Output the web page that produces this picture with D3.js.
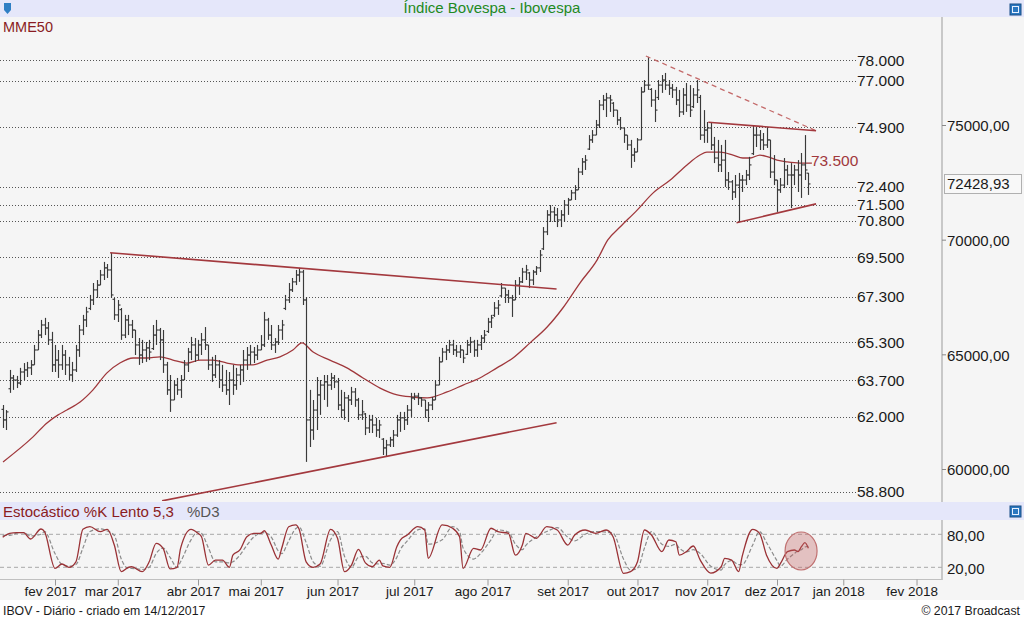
<!DOCTYPE html>
<html><head><meta charset="utf-8">
<script src="https://cdn.jsdelivr.net/npm/d3@7"></script>
<style>
html,body{margin:0;padding:0;background:#fff;}
svg{display:block;font-family:"Liberation Sans",Arial,sans-serif;}
</style></head><body>
<svg id="c" width="1024" height="621"></svg>
<script>
// ---------------- DATA ----------------
const firstIdx = -15; // trading-day index of first bar (0 = 1 Feb 2017)
const highs = [
62790,62570,64320,64100,64060,64410,64620,64670,64750,65410,66060,66500,66590,66410,65980,
65410,65190,65410,65190,64890,64670,65410,66280,66720,67070,
67590,68110,68240,68680,69030,68940,69420,67460,67370,67020,
66720,66720,66500,66060,65710,65630,65540,65630,66280,66500,
66150,66060,64670,64100,63880,63970,64100,64750,65280,65760,
65710,65630,65930,66190,65410,64890,64970,64750,64540,64320,
64230,64540,64410,64540,65190,65320,65410,65320,65410,65840,
66850,66590,66280,65710,66280,66500,67590,68110,68330,68680,
68770,68680,67500,63450,63010,64010,63880,64100,64100,64190,
64100,63970,63450,63360,63230,63580,63530,63100,63010,62440,
62360,62360,62230,62140,61350,61270,61400,61700,62360,62490,
62490,62790,63320,63320,63320,63140,63010,62920,63140,63880,
64890,65280,65410,65630,65630,65410,65410,65190,65630,65760,
65630,65630,65840,66060,66590,66720,67280,67370,68110,67890,
67810,67590,68240,68370,68770,68900,68590,68680,68850,69550,
70550,71290,71510,71430,71380,71290,71730,71820,72170,72380,
73130,73560,73690,74560,74780,75220,76090,76310,76400,76310,
76000,75650,75350,74870,74560,74350,74000,74430,76660,76960,
77970,76610,76530,76960,77180,77270,76960,76790,76660,76530,
76610,76830,76740,76610,76960,76310,75650,75130,75130,74480,
74350,74130,74350,72950,72600,72820,72910,72820,73040,73610,
75000,74910,74780,74650,74910,74350,73690,72600,72690,73560,
73260,73340,73260,73470,73780,74560,72910];
const lows = [
61790,61700,63320,63450,63530,63660,63880,64010,64100,64540,65190,65710,65840,65410,64230,
64230,63970,64320,64100,63880,63800,64230,64890,65840,66190,
66930,67150,67460,68020,68240,68330,67460,66500,66410,65630,
65710,65840,65710,64970,64540,64620,64670,64750,65190,65410,
64750,64190,63230,62490,63010,63230,63100,63880,64230,64750,
64670,64750,64970,65190,64320,63800,63970,63530,63360,63230,
62790,63230,63450,63660,63800,64320,64540,64620,64750,65190,
65320,65630,65190,65060,65410,65630,66930,67240,67720,68020,
68160,67150,60310,60960,61270,61700,62360,63010,62710,63450,
63530,62570,62230,62140,62050,62790,62710,62140,62140,61480,
61570,61570,61400,61350,60610,60530,60960,60960,61400,61620,
61700,61920,62270,63010,62790,62710,62230,62050,62570,63010,
63660,64670,64750,65060,64970,64890,64840,64620,64970,65060,
64890,64890,65190,65500,65930,66150,66630,66720,67500,67240,
67240,66630,67370,67590,68110,68240,67890,68020,68460,68590,
69550,70200,70770,70770,70550,70550,70770,71080,71730,71730,
72170,72820,73040,73910,74220,74560,74870,75650,75350,75570,
75350,75000,74780,74220,73910,73130,73390,73820,74350,76440,
76530,75790,75130,76090,76400,76530,76310,76180,75870,75350,
75440,75570,75350,75740,75960,74350,74220,74220,73910,73340,
72950,72950,72300,72170,71730,71820,70770,72080,72380,72600,
73690,74040,73910,73910,74000,72690,72380,71210,72040,72250,
72380,71380,72380,72080,71820,72600,71950];
const opens = [
62600,62140,63500,63970,63880,63750,64230,64320,64410,64540,65190,65840,66280,66150,65630,
64540,64750,64540,64970,64540,64100,64320,65190,66060,66500,
67000,67370,67810,68020,68460,68770,68680,67400,66720,66950,
65840,66500,66280,66060,65410,64970,65190,65280,65250,65840,
66060,65630,64540,63450,63010,63660,63450,63880,64540,65100,
65410,64970,65410,65630,65410,64540,64100,64540,63880,63660,
63450,63880,63660,64100,64320,64750,64970,65100,64970,65190,
65410,66500,65840,65410,65540,66060,67000,67370,67810,68160,
68460,68590,67370,62140,61700,62570,63230,63660,63800,63660,
63970,63800,62790,62570,63100,63010,63360,63010,62360,62400,
61790,62140,61920,61700,61300,60920,61050,61270,61480,62140,
62230,62140,62570,63100,63180,63100,63010,62570,62790,63010,
63660,64670,65100,65190,65410,65190,65100,65190,65000,65410,
65540,65190,65410,65710,66000,66410,66700,67020,67550,67890,
67590,67460,67370,68020,68160,68590,68550,68240,68590,68770,
69600,70340,71080,71210,71080,70860,71080,71510,71730,72040,
72170,72950,73390,73950,74350,74560,75000,75870,76090,76180,
75950,75650,75220,74870,74560,74130,73690,73820,74350,76440,
76740,76550,76090,76200,76740,76960,76740,76610,76530,76090,
75570,76310,75870,75800,76310,76200,74560,74780,74870,74130,
73560,73260,73470,72600,72520,72080,72380,72600,72600,72820,
73750,74560,74560,74350,74130,74350,72950,72600,72170,72380,
73040,72820,72820,73040,72820,73260,72900];
const closes = [
62140,62490,63970,63880,63750,64230,64320,64410,64540,65190,65840,66280,66150,65630,64540,
64750,64540,64970,64540,64100,64320,65190,66060,66500,66850,
67370,67810,68020,68460,68770,68680,67590,66720,67150,65840,
66500,66280,66060,65410,64970,65190,65280,65100,65840,66060,
65630,64540,63450,63010,63660,63450,63880,64540,65100,65410,
64970,65410,65630,65410,64540,64100,64540,63880,63660,63450,
63880,63660,64100,64320,64750,64970,65100,64970,65190,65410,
66500,65840,65410,65540,66060,66280,67370,67810,68160,68460,
68590,67370,62140,61700,62570,63230,63660,63800,63660,63970,
63800,62790,62570,63100,63010,63360,63010,62360,62490,61790,
62140,61920,61700,61920,60920,61050,61270,61480,62140,62230,
62140,62570,63100,63180,63100,63010,62570,62790,63010,63660,
64670,65100,65190,65410,65190,65100,65190,64840,65410,65540,
65190,65410,65710,65840,66410,66590,67020,67150,67890,67590,
67460,67370,68020,68160,68590,68680,68240,68590,68770,69330,
70340,71080,71210,71080,70860,71080,71510,71730,72040,72170,
72950,73390,73470,74350,74560,75000,75870,76090,76180,76090,
75650,75220,74870,74560,74130,73690,73820,74350,76440,76740,
76740,76090,75650,76740,76960,76740,76610,76530,76090,75570,
76310,75870,75650,76310,76530,74560,74780,74870,74130,73560,
73260,73470,72600,72520,72080,72380,72600,72600,72820,73260,
74560,74560,74350,74130,74350,72950,72600,72170,72380,73040,
72820,72820,73040,72820,73260,73040,72430];

// MME50 (exponential moving average 50)
const emaIdx = [-14.9,-6.3,-2.3,0.9,3.4,7.2,10.9,14.9,18.6,22.4,26.4,30.1,33.8,37.8,41.6,45.3,49.3,53.0,56.8,60.8,
64.5,68.2,70.8,74.0,78.8,83.7,88.3,93.2,98.1,102.6,106.7,112.4,117.0,121.8,126.7,131.3,136.2,141.1,145.6,150.5,
155.4,158.5,162.0,166.9,171.5,176.4,181.2,184.9,186.9,190.7,194.4,197.2,199.3,202.1,204.4,207.0,209.9,213.6,217.0];
const emaVals = [60310,61400,62010,62360,62570,62920,63450,64190,64620,64840,64840,64890,64750,64620,64750,64750,64620,64540,64540,64750,
64890,65190,65500,65100,64750,64410,63970,63530,63230,63140,63100,63360,63660,63970,64410,64840,65500,66190,67020,68110,
69110,69990,70550,71290,72040,72600,73260,73690,73820,73820,73690,73560,73560,73690,73610,73470,73390,73340,73340];

// Stochastic %K slow 5,3 and %D3
const stochIdx = [-15,-13,-11,-9,-7,-4,-3,0,2,4,
6,8,10,13,15,17,19,21,22,25,
27,29,31,33,35,36,39,41,42,44,
46,48,50,51,53,55,57,59,60,62,
64,65,67,69,70,72,74,76,79,81,
83,85,87,89,91,93,94,96,98,99,
101,104,106,107,111,114,116,117,120,122,
125,127,130,132,134,135,138,141,144,147,
149,152,155,158,160,163,165,167,169,171,
174,176,178,179,181,183,185,188,191,192,
194,196,197,200,202,204,207,208,210,212,
213,214,215,216];
const kVals = [74.5,81.8,83,83,71.5,89.6,84.7,18,26,20,
30,89,93.8,84.7,89,60.5,12,20,21,12,
30,63.6,54.5,17,20,54.5,89,81.8,75.6,24,
33,33,20,42,51.5,75.6,81.8,81.8,86.5,60.5,
35,54.5,93.8,97,89,30,20,26,89,72.7,
12,24,52.7,28,21,33,22.4,20,57.5,69.6,
78.7,93.8,87.8,36.4,97,91,75.6,18,54.5,51.5,
91,84.7,81.8,42,60.5,81.8,72.7,93.8,87.8,60.5,
78.7,87.8,81.8,87.8,75.6,9,12,30,87.8,78.7,
48.4,69.6,66.5,42,48.4,58.7,33,9.5,21,36.4,
33,12,39.3,89,81.8,42,18,27,48.4,51.5,
48.4,57.5,64.7,54.5];
const dVals = [78,78,82,83,77,80,85,45,25,22,
25,55,85,90,86,78,35,18,18,16,
20,45,55,38,20,30,70,85,82,55,
30,30,28,30,42,60,75,82,83,75,
50,45,68,90,93,65,30,22,70,85,
40,20,38,40,28,26,27,24,38,52,
68,88,90,62,70,94,85,55,35,45,
70,88,84,62,52,60,75,85,92,75,
68,80,85,84,82,35,15,18,55,85,
62,58,62,55,48,52,45,22,15,25,
32,25,25,60,85,65,32,22,35,45,
50,52,57,58];

// horizontal study levels (label text, drawn level)
const levelLabels = ["78.000","77.000","74.900","72.400","71.500","70.800","69.500","67.300","65.300","63.700","62.000","58.800"];
const levelValues = [77830,76930,74900,72310,71520,70830,69230,67510,65530,63880,62280,59000];

// trend lines [idx1, value1, idx2, value2, dashed]
const trendLines = [
  [15.8,69430,143.8,67850,0],
  [30.7,58610,143.8,62020,0],
  [169.4,78010,218.2,74750,1],
  [187.3,75120,218.2,74750,0],
  [195.4,70740,218.2,71560,0]
];

const monthLabels = ["fev 2017","mar 2017","abr 2017","mai 2017","jun 2017","jul 2017","ago 2017","set 2017","out 2017","nov 2017","dez 2017","jan 2018","fev 2018"];
const monthIdx = [0,18,41,59,81,103,124,147,167,187,207,226,247];

const priceTicks = [60000,65000,70000,75000];
const stochTicks = [20,80];
const lastPrice = 72428.93;
const emaLabel = "73.500";
const highlight = [213.9, 49.6]; // stochastic annotation centre

// ---------------- DRAW ----------------
const svg = d3.select("#c");
const loc = d3.formatLocale({decimal:",", thousands:".", grouping:[3], currency:["",""]});
const fmt2 = loc.format(".2f");

const x = d3.scaleLinear().domain([0,207]).range([55,777]);
const y = d3.scaleLinear().domain([60000,75000]).range([469,125]);
const ys = d3.scaleLinear().domain([20,80]).range([567.3,534.3]);

const PLOT_R = 942;
// backgrounds
svg.append("rect").attr("x",0).attr("y",0).attr("width",1024).attr("height",621).attr("fill","#ffffff");
svg.append("rect").attr("x",0).attr("y",0).attr("width",1024).attr("height",17).attr("fill","#e5e7fa");
svg.append("rect").attr("x",0).attr("y",17).attr("width",1024).attr("height",485).attr("fill","#f5f5f5");
svg.append("rect").attr("x",0).attr("y",502).attr("width",1024).attr("height",18).attr("fill","#e5e7fa");
svg.append("rect").attr("x",0).attr("y",520).attr("width",1024).attr("height",80).attr("fill","#f5f5f5");

const defs = svg.append("defs");
defs.append("clipPath").attr("id","cm").append("rect").attr("x",0).attr("y",17).attr("width",PLOT_R).attr("height",484);
defs.append("clipPath").attr("id","cs").append("rect").attr("x",0).attr("y",520).attr("width",PLOT_R).attr("height",59);

// title & icons
svg.append("text").attr("x",492).attr("y",13).attr("text-anchor","middle")
  .attr("font-size","15px").attr("fill","#1f8a22").text("Índice Bovespa - Ibovespa");
svg.append("path").attr("d","M4,3 L11,3 L11,10 L7.5,14 L4,10 Z").attr("fill","#2f7fc4");
function icon(yy){
  svg.append("rect").attr("x",1010).attr("y",yy).attr("width",11).attr("height",11).attr("fill","#2b78c0").attr("stroke","#1b4f86");
  svg.append("rect").attr("x",1012.5).attr("y",yy+2.5).attr("width",6).attr("height",6).attr("fill","none").attr("stroke","#e8f0ff").attr("stroke-width",1);
}
icon(4); icon(506);

// separators
svg.append("line").attr("x1",PLOT_R).attr("x2",PLOT_R).attr("y1",17).attr("y2",502).attr("stroke","#c8c8c8").attr("stroke-width",2);
svg.append("line").attr("x1",PLOT_R).attr("x2",PLOT_R).attr("y1",520).attr("y2",580).attr("stroke","#c8c8c8").attr("stroke-width",2);

const gm = svg.append("g").attr("clip-path","url(#cm)");

// levels
levelValues.forEach((v,i)=>{
  gm.append("line").attr("x1",0).attr("x2",856).attr("y1",Math.round(y(v))+0.5).attr("y2",Math.round(y(v))+0.5)
    .attr("stroke","#555").attr("stroke-width",1).attr("stroke-dasharray","1,2");
  svg.append("text").attr("x",857).attr("y",y(v)+5.5).attr("font-size","15.5px").attr("fill","#1a1a1a").text(levelLabels[i]);
});

// EMA
const ema = emaIdx.map((d,i)=>[d,emaVals[i]]);
gm.append("path").datum(ema).attr("fill","none").attr("stroke","#a0383c").attr("stroke-width",1.3)
  .attr("d",d3.line().x(d=>x(d[0])).y(d=>y(d[1])).curve(d3.curveMonotoneX));
svg.append("text").attr("x",x(emaIdx[emaIdx.length-1])-1).attr("y",y(emaVals[emaVals.length-1])+3)
  .attr("font-size","15.5px").attr("fill","#a0383c").text(emaLabel);

// OHLC bars
const bars = highs.map((h,i)=>({i:firstIdx+i,h:h,l:lows[i],o:opens[i],c:closes[i]}));
const gb = gm.append("g").attr("stroke","#3a3a3a").attr("stroke-width",1.15);
bars.forEach(b=>{
  const xx = Math.round(x(b.i))+0.5;
  gb.append("line").attr("x1",xx).attr("x2",xx).attr("y1",y(b.h)).attr("y2",y(b.l));
  gb.append("line").attr("x1",xx-2).attr("x2",xx).attr("y1",y(b.o)).attr("y2",y(b.o));
  gb.append("line").attr("x1",xx).attr("x2",xx+2).attr("y1",y(b.c)).attr("y2",y(b.c));
});

// trend lines
trendLines.forEach(t=>{
  gm.append("line").attr("x1",x(t[0])).attr("y1",y(t[1])).attr("x2",x(t[2])).attr("y2",y(t[3]))
    .attr("stroke",t[4]?"#c46a6a":"#a3393e").attr("stroke-width",t[4]?1.3:1.6)
    .attr("stroke-dasharray",t[4]?"5,4":null);
});

// MME50 label
svg.append("text").attr("x",3).attr("y",31.5).attr("font-size","14.5px").attr("fill","#8a1c22").text("MME50");

// right price axis
const ra = svg.append("g").attr("transform",`translate(${PLOT_R},0)`)
  .call(d3.axisRight(y).tickValues(priceTicks).tickSize(4).tickFormat(fmt2));
ra.select(".domain").remove();
ra.selectAll("line").attr("stroke","#888");
ra.selectAll("text").attr("x",5).attr("dy","0.38em").attr("font-size","15px").attr("fill","#1a1a1a")
  .attr("font-family","'Liberation Sans',Arial,sans-serif");
svg.append("rect").attr("x",944.5).attr("y",Math.round(y(lastPrice))-9.5).attr("width",77).attr("height",19)
  .attr("fill","#f8f8f8").attr("stroke","#b0b0b0");
svg.append("text").attr("x",947).attr("y",y(lastPrice)+5.5).attr("font-size","15px").attr("fill","#1a1a1a").text(fmt2(lastPrice));

// stochastic header
svg.append("text").attr("x",3).attr("y",517).attr("font-size","15px").attr("fill","#8a1c22").text("Estocástico %K Lento 5,3");
svg.append("text").attr("x",187).attr("y",517).attr("font-size","15px").attr("fill","#555").text("%D3");

const gs = svg.append("g").attr("clip-path","url(#cs)");
stochTicks.forEach(v=>{
  gs.append("line").attr("x1",0).attr("x2",PLOT_R).attr("y1",ys(v)).attr("y2",ys(v))
    .attr("stroke","#a8a8a8").attr("stroke-dasharray","4,3").attr("stroke-width",1);
});
const kd = stochIdx.map((d,i)=>[d,kVals[i],dVals[i]]);
gs.append("path").datum(kd).attr("fill","none").attr("stroke","#8c8c8c").attr("stroke-width",1.2).attr("stroke-dasharray","4,2")
  .attr("d",d3.line().x(d=>x(d[0])).y(d=>ys(d[2])).curve(d3.curveMonotoneX));
gs.append("path").datum(kd).attr("fill","none").attr("stroke","#9a3236").attr("stroke-width",1.3)
  .attr("d",d3.line().x(d=>x(d[0])).y(d=>ys(d[1])).curve(d3.curveMonotoneX));
gs.append("ellipse").attr("cx",x(highlight[0])).attr("cy",ys(highlight[1])).attr("rx",16).attr("ry",19)
  .attr("fill","rgba(196,96,96,0.35)").attr("stroke","#c07070").attr("stroke-width",1.2);

const sa = svg.append("g").attr("transform",`translate(${PLOT_R},0)`)
  .call(d3.axisRight(ys).tickValues(stochTicks).tickSize(0).tickFormat(fmt2));
sa.select(".domain").remove();
sa.selectAll("text").attr("x",5).attr("dy","0.38em").attr("font-size","15px").attr("fill","#1a1a1a")
  .attr("font-family","'Liberation Sans',Arial,sans-serif");

// bottom month axis
svg.append("line").attr("x1",0).attr("x2",PLOT_R).attr("y1",579.5).attr("y2",579.5).attr("stroke","#c0c0c0");
const xa = svg.append("g").attr("transform","translate(0,579.5)")
  .call(d3.axisBottom(x).tickValues(monthIdx).tickSize(6).tickFormat((d,i)=>monthLabels[i]));
xa.select(".domain").remove();
xa.selectAll("line").attr("stroke","#999");
xa.selectAll("text").attr("dx","-5").attr("y",16.5).attr("dy",0).attr("font-size","13.5px").attr("fill","#1a1a1a")
  .attr("font-family","'Liberation Sans',Arial,sans-serif");

// footer
svg.append("rect").attr("x",0).attr("y",600).attr("width",1024).attr("height",21).attr("fill","#ffffff");
svg.append("text").attr("x",3).attr("y",614.5).attr("font-size","12.3px").attr("fill","#1a1a1a").text("IBOV - Diário - criado em 14/12/2017");
svg.append("text").attr("x",1020).attr("y",614.5).attr("text-anchor","end").attr("font-size","12.3px").attr("fill","#1a1a1a").text("© 2017 Broadcast");
</script>
</body></html>
